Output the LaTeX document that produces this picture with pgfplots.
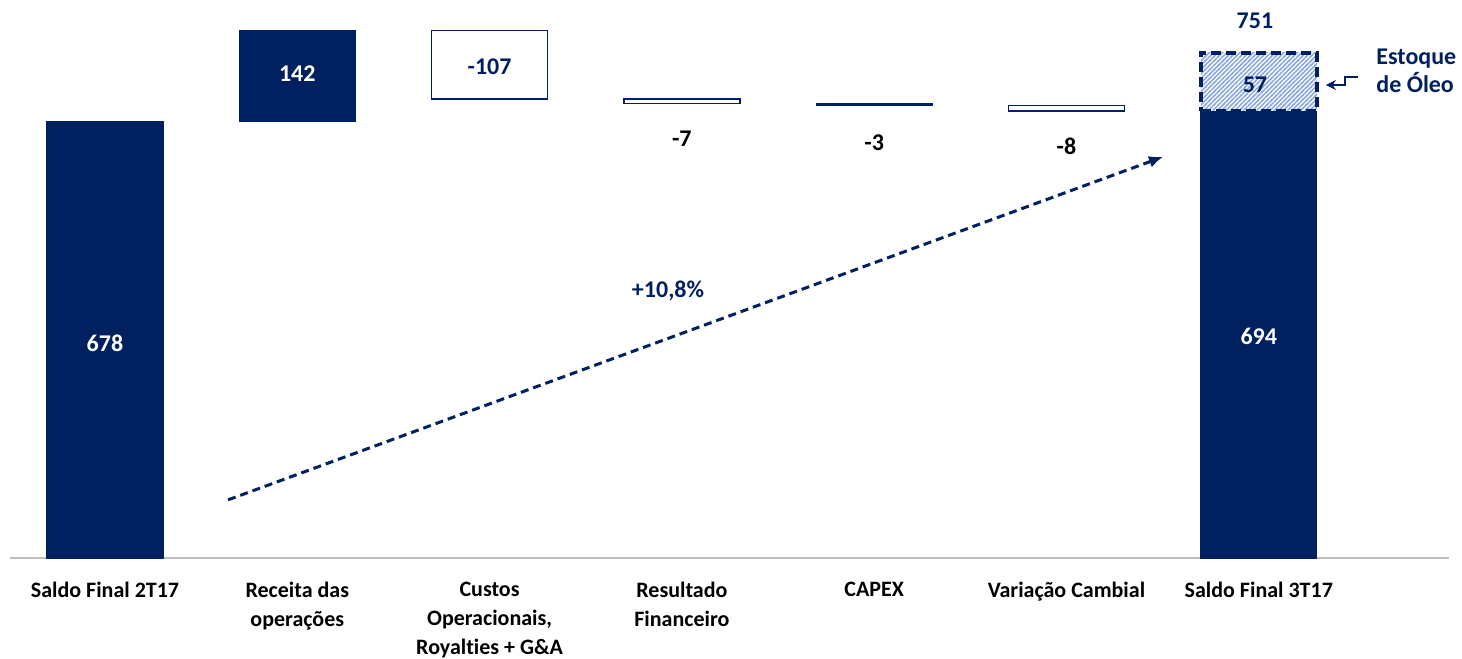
\documentclass[border=0pt]{standalone}
\usepackage{pgfplots}
\pgfplotsset{compat=1.18}
\usepackage{pgfplotstable}
\usepackage{fontspec}
\setmainfont{Carlito}[Ligatures=NoCommon]
\usetikzlibrary{patterns, arrows.meta}
\definecolor{navy}{RGB}{0,32,96}
\definecolor{hatch}{RGB}{143,170,220}
\definecolor{axisgray}{RGB}{191,191,191}

\pgfdeclarepatternformonly{hatchlines}{\pgfqpoint{-1pt}{-1pt}}{\pgfqpoint{3.2pt}{3.2pt}}{\pgfqpoint{2.2pt}{2.2pt}}{%
  \pgfsetlinewidth{0.75pt}%
  \pgfpathmoveto{\pgfqpoint{-0.5pt}{-0.5pt}}%
  \pgfpathlineto{\pgfqpoint{2.7pt}{2.7pt}}%
  \pgfusepath{stroke}}

\pgfplotstableread{
x base filled outlined
0 0 678 0
1 678 142 0
2 713 0 107
3 706 0 7
4 703 3 0
5 695 0 8
6 0 694 0
}\wf

\pgfplotstableread{
x base hatched
6 694 91
}\stock

\pgfplotsset{
  wfbase/.style={
    scale only axis, width=719.5pt, height=279.25pt,
    xmin=-0.494, xmax=6.989, ymin=0, ymax=867,
    clip=false,
  },
}
\tikzset{lbl/.style={font=\fontsize{12}{14}\selectfont\bfseries}}

\begin{document}
\begin{tikzpicture}
\begin{axis}[
  name=hax, wfbase,
  hide axis,
  ybar stacked, bar width=58pt,
]
\addplot[draw=none, fill=none] table[x=x,y=base]{\stock};
\addplot[draw=navy, line width=2pt, dash pattern=on 5pt off 2.5pt,
  pattern=hatchlines, pattern color=hatch]
  table[x=x,y=hatched]{\stock};
\end{axis}
\begin{axis}[
  at={(hax.south west)}, anchor=south west, wfbase,
  axis x line*=bottom, axis y line=none,
  x axis line style={draw=axisgray, line width=1pt, -},
  xtick={0,...,6},
  xticklabels={{Saldo Final 2T17},{Receita das\\operações},{Custos\\Operacionais,\\Royalties + G\&A},{Resultado\\Financeiro},{CAPEX},{Variação Cambial},{Saldo Final 3T17}},
  major tick length=0pt,
  ytick=\empty,
  xticklabel style={font=\fontsize{11}{14.5}\selectfont\bfseries, align=center, text=black, yshift=-8.5pt},
  ybar stacked, bar width=58pt,
]
\addplot[draw=none, fill=none] table[x=x,y=base]{\wf};
\addplot[draw=navy, line width=0.6pt, fill=navy] table[x=x,y=filled]{\wf};
\addplot[draw=navy, fill=white, line width=0.75pt] table[x=x,y=outlined]{\wf};
\end{axis}
\begin{axis}[
  at={(hax.south west)}, anchor=south west, wfbase,
  hide axis,
]
\node[lbl, text=white] at (axis cs:0,334.7) {678};
\node[lbl, text=white] at (axis cs:1,752.4) {142};
\node[lbl, text=navy] at (axis cs:2,763.3) {-107};
\node[lbl, text=black] at (axis cs:3,651.5) {-7};
\node[lbl, text=black] at (axis cs:4,645.3) {-3};
\node[lbl, text=black] at (axis cs:5,640.6) {-8};
\node[lbl, text=white] at (axis cs:6,344) {694};
\node[lbl, text=navy] at (axis cs:5.98,735.3) {57};
\node[lbl, text=navy] at (axis cs:5.98,834) {751};
\node[lbl, text=navy] at (axis cs:2.928,415.4) {+10,8\%};
\node[lbl, text=navy, align=left, anchor=west] at (axis cs:6.575,757) {Estoque\\de Óleo};

\draw[navy, line width=1pt, -{Stealth[length=5pt,width=5pt]}]
  (axis cs:6.516,748) -- (axis cs:6.448,748) -- (axis cs:6.448,735) -- (axis cs:6.349,735);
\draw[navy, line width=1.5pt, dash pattern=on 4pt off 2.5pt, -{Latex[length=7pt, width=6pt]}]
  (axis cs:0.640,91) -- (axis cs:5.502,623.5);

\coordinate (bbl) at (axis cs:-0.546,-156);
\coordinate (btr) at (axis cs:7.057,867);
\end{axis}
\pgfresetboundingbox
\path[use as bounding box] (bbl) rectangle (btr);
\end{tikzpicture}
\end{document}
